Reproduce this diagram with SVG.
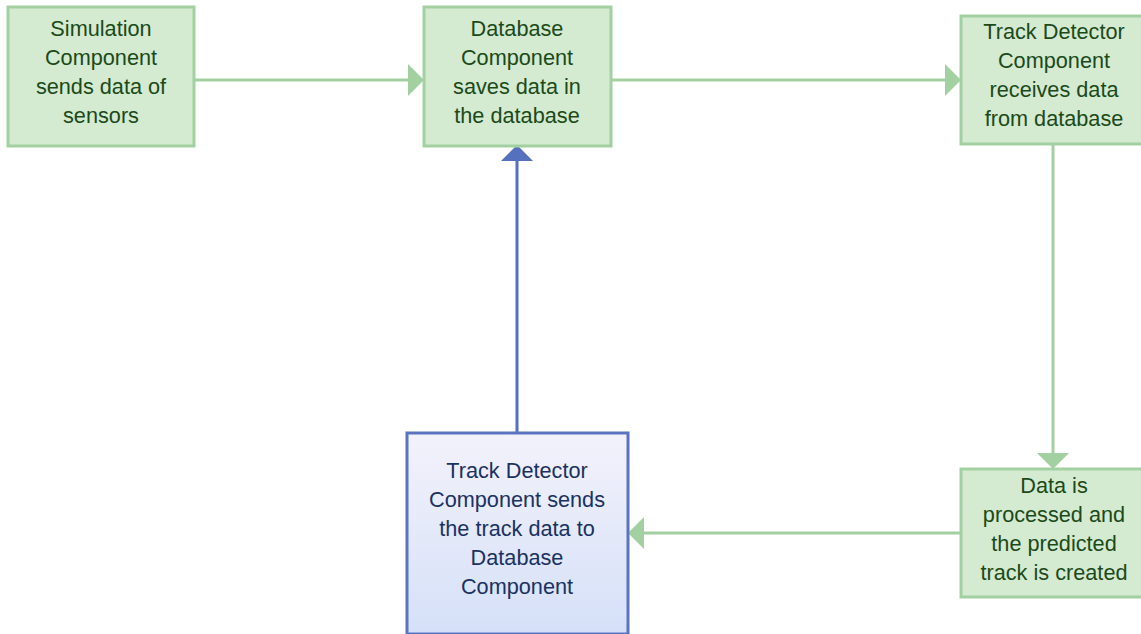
<svg xmlns="http://www.w3.org/2000/svg" width="1141" height="634" viewBox="0 0 1141 634">
<style>
.g rect{fill:#d4ebd2;stroke:#a3d0a1;stroke-width:3}
.g text{fill:#1b4a18}
text{font-family:"Liberation Sans",Arial,sans-serif;font-size:21.7px;text-anchor:middle}
.b text{fill:#1a3262}
.cg{stroke:#a3d0a1;stroke-width:3;fill:none}
.cb{stroke:#5571bd;stroke-width:3;fill:none}
</style>
<defs>
<linearGradient id="bg" x1="0" y1="0" x2="0" y2="1">
<stop offset="0" stop-color="#f3f2fb"/>
<stop offset="1" stop-color="#d5e0f8"/>
</linearGradient>
</defs>
<rect width="1141" height="634" fill="#fff"/>
<g id="connectors">
<path class="cg" d="M194 80H410"/>
<polygon points="408,64 424,80 408,96" fill="#a3d0a1"/>
<path class="cg" d="M611 80H947"/>
<polygon points="945,64 961,80 945,96" fill="#a3d0a1"/>
<path class="cg" d="M1053 144V455"/>
<polygon points="1037,453 1053,469 1069,453" fill="#a3d0a1"/>
<path class="cg" d="M961 533H642"/>
<polygon points="644,517 628,533 644,549" fill="#a3d0a1"/>
<path class="cb" d="M517 433V160"/>
<polygon points="501,161 517,145 533,161" fill="#5571bd"/>
</g>
<g id="sim" class="g">
<rect x="8" y="7" width="186" height="139"/>
<text x="101" y="36">Simulation</text>
<text x="101" y="65">Component</text>
<text x="101" y="94">sends data of</text>
<text x="101" y="123">sensors</text>
</g>
<g id="db" class="g">
<rect x="424" y="7" width="187" height="139"/>
<text x="517" y="36">Database</text>
<text x="517" y="65">Component</text>
<text x="517" y="94">saves data in</text>
<text x="517" y="123">the database</text>
</g>
<g id="tdrecv" class="g">
<rect x="961" y="16" width="186" height="128"/>
<text x="1054" y="39">Track Detector</text>
<text x="1054" y="68">Component</text>
<text x="1054" y="97">receives data</text>
<text x="1054" y="126">from database</text>
</g>
<g id="proc" class="g">
<rect x="961" y="469" width="186" height="128"/>
<text x="1054" y="493">Data is</text>
<text x="1054" y="522">processed and</text>
<text x="1054" y="551">the predicted</text>
<text x="1054" y="580">track is created</text>
</g>
<g id="tdsend" class="b">
<rect x="407" y="433" width="221" height="201" fill="url(#bg)" stroke="#5b74c0" stroke-width="3"/>
<text x="517" y="478">Track Detector</text>
<text x="517" y="507">Component sends</text>
<text x="517" y="536">the track data to</text>
<text x="517" y="565">Database</text>
<text x="517" y="594">Component</text>
</g>
</svg>
